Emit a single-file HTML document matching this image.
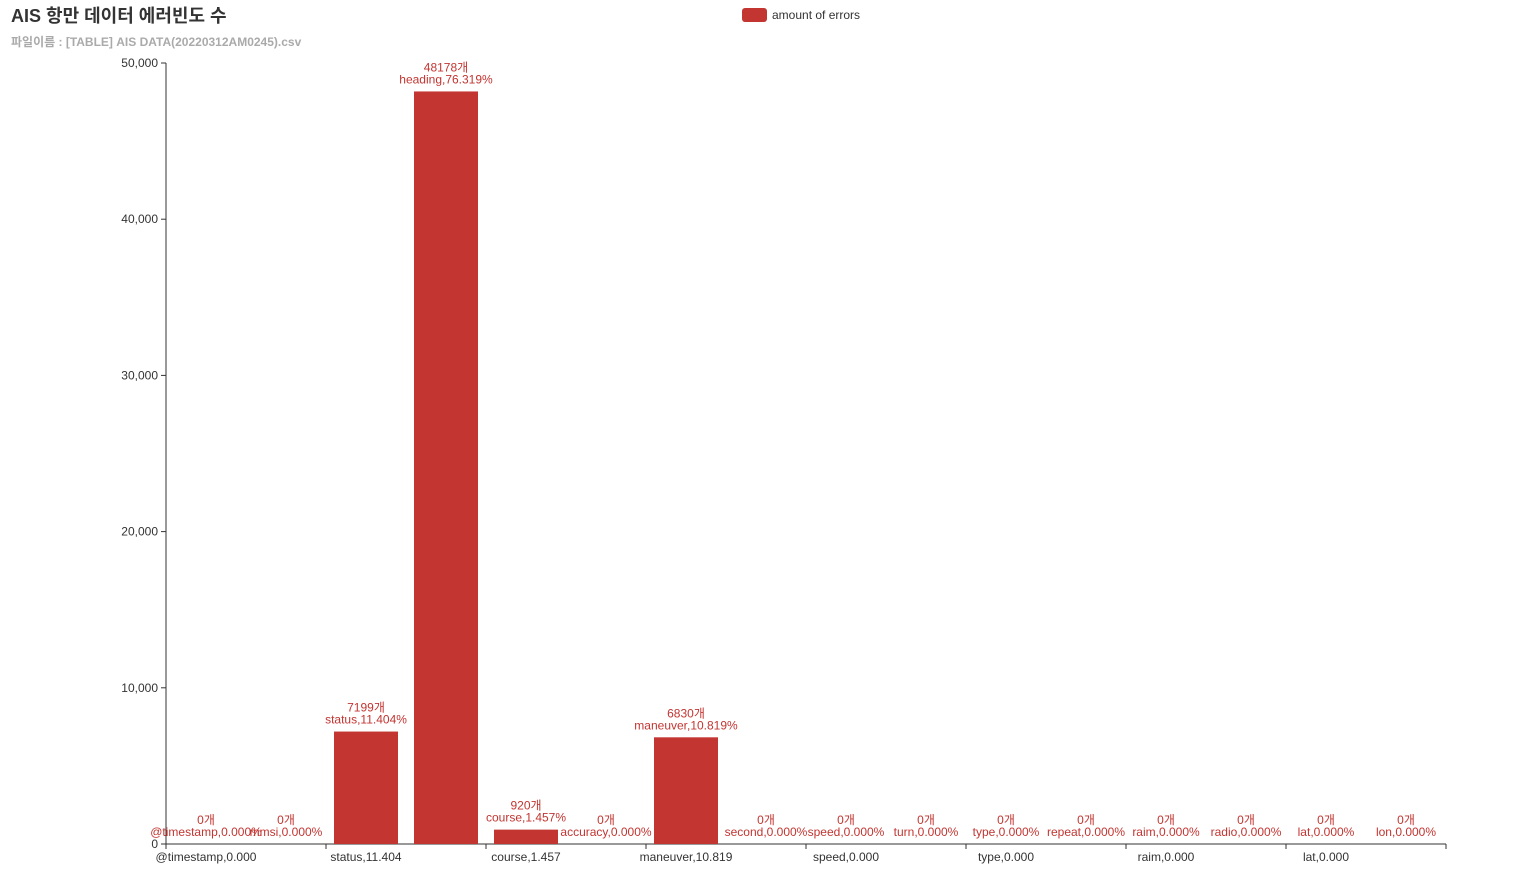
<!DOCTYPE html>
<html><head><meta charset="utf-8"><style>
body{margin:0;background:#fff;width:1520px;height:884px;overflow:hidden;font-family:"Liberation Sans","Noto Sans CJK KR",sans-serif}
</style></head><body>
<svg width="1520" height="884" font-family="Liberation Sans, Noto Sans CJK KR, sans-serif">
<text x="11" y="22" font-size="18" font-weight="bold" fill="#333">AIS 항만 데이터 에러빈도 수</text>
<text x="11" y="46" font-size="12" font-weight="bold" fill="#aaa">파일이름 : [TABLE] AIS DATA(20220312AM0245).csv</text>
<g>
<rect x="742" y="8" width="25" height="14" rx="3" fill="#c23531"/>
<text x="772" y="19" font-size="12" fill="#333">amount of errors</text>
</g>
<g id="plot"></g>
</svg>
<script>
const categories=["@timestamp","mmsi","status","heading","course","accuracy","maneuver","second","speed","turn","type","repeat","raim","radio","lat","lon"];
const values=[0,0,7199,48178,920,0,6830,0,0,0,0,0,0,0,0,0];
const percents=["0.000","0.000","11.404","76.319","1.457","0.000","10.819","0.000","0.000","0.000","0.000","0.000","0.000","0.000","0.000","0.000"];
const yTicks=[0,10000,20000,30000,40000,50000];
const NS="http://www.w3.org/2000/svg";
const g=document.getElementById('plot');
const x0=166,x1=1446,y0=844,y1=63,yMax=50000;
const bw=(x1-x0)/categories.length;
const xs=i=>x0+bw*(i+0.5);
const ys=v=>y0-(v/yMax)*(y0-y1);
function el(t,a,txt){const e=document.createElementNS(NS,t);for(const k in a)e.setAttribute(k,a[k]);if(txt!==undefined)e.textContent=txt;g.appendChild(e);return e;}
let e=el('line',{x1:x0,y1:y0,x2:x0,y2:y1,stroke:'#333'});


e=el('line',{x1:x0,y1:y0,x2:x1,y2:y0,stroke:'#333'});


yTicks.forEach(v=>{
 const y=ys(v);
 el('line',{x1:x0-5,y1:y,x2:x0,y2:y,stroke:'#333'});
 const t=el('text',{x:x0-8,y:y+4,'font-size':12,fill:'#333','text-anchor':'end'},v.toLocaleString('en-US'));
 
 
});
for(let i=0;i<=categories.length;i+=2){el('line',{x1:x0+bw*i,y1:y0,x2:x0+bw*i,y2:y0+5,stroke:'#333'});}
categories.forEach((c,i)=>{
 const v=values[i],cx=xs(i),top=ys(v);
 if(v>0){
  const r=el('rect',{x:cx-32,y:top,width:64,height:y0-top,fill:'#c23531'});
  
  
 }
 const l1=el('text',{x:cx,y:top-20,'font-size':12,fill:'#c23531','text-anchor':'middle'},v+'개');
 
 
 const l2=el('text',{x:cx,y:top-8,'font-size':12,fill:'#c23531','text-anchor':'middle'},c+','+percents[i]+'%');
 
 
 if(i%2===0){
  const xl=el('text',{x:cx,y:y0+17,'font-size':12,fill:'#333','text-anchor':'middle'},c+','+percents[i]);
  
  
 }
});
</script>
</body></html>
